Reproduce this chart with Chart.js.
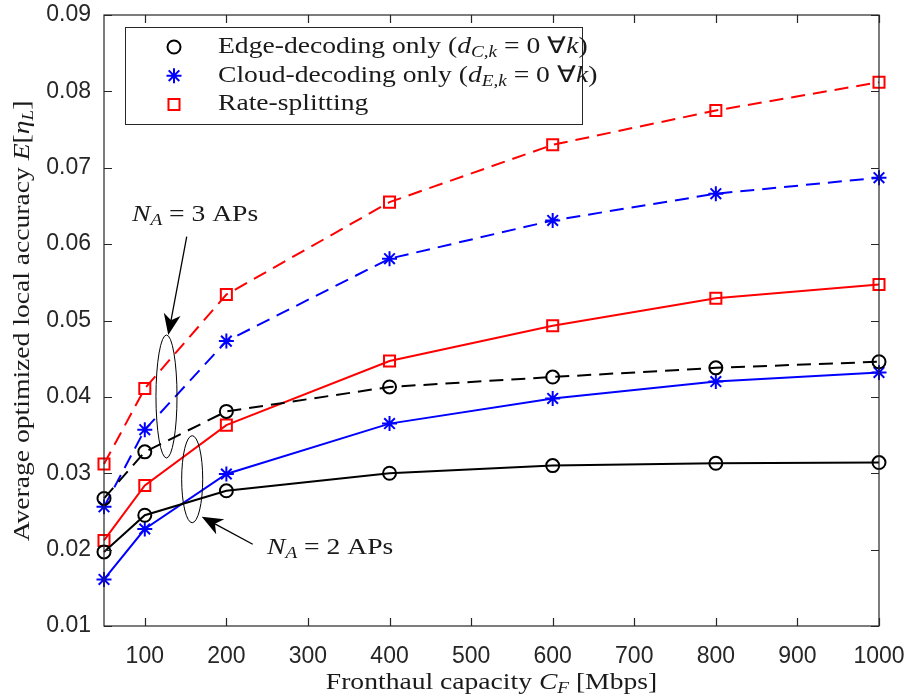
<!DOCTYPE html>
<html>
<head>
<meta charset="utf-8">
<script src="https://cdn.jsdelivr.net/npm/chart.js@4.4.1/dist/chart.umd.min.js"></script>
<style>
  html, body { margin: 0; padding: 0; background: #fff; }
  #wrap { width: 909px; height: 698px; position: relative; }
</style>
</head>
<body>
<div id="wrap"><canvas id="accChart"></canvas></div>
<script>
/* =====================================
   DATA
===================================== */

const capacities = [50, 100, 200, 400, 600, 800, 1000];

// N_A = 3 APs (dashed)
const edge3  = [0.0267, 0.0328, 0.0381, 0.0413, 0.0426, 0.0438, 0.0446];
const cloud3 = [0.0256, 0.0357, 0.0473, 0.0581, 0.0631, 0.0666, 0.0687];
const rs3    = [0.0312, 0.0411, 0.0534, 0.0655, 0.0730, 0.0775, 0.0812];

// N_A = 2 APs (solid)
const edge2  = [0.0197, 0.0245, 0.0277, 0.0300, 0.0310, 0.0313, 0.0314];
const cloud2 = [0.0161, 0.0227, 0.0299, 0.0365, 0.0398, 0.0420, 0.0432];
const rs2    = [0.0212, 0.0284, 0.0363, 0.0447, 0.0493, 0.0529, 0.0547];

const xTicks = [100, 200, 300, 400, 500, 600, 700, 800, 900, 1000];
const yTicks = [0.01, 0.02, 0.03, 0.04, 0.05, 0.06, 0.07, 0.08, 0.09];

/* =====================================
   STYLE
===================================== */

const AXIS = "#262626";
const SERIF = '"Liberation Serif", "Times New Roman", serif';
const SANS = '"Liberation Sans", Arial, sans-serif';
const TEXT_SIZE = 23;
const STRETCH = 1.2;   // widen Times towards Computer Modern proportions

const styles = {
    edge:  { color: "#000000", point: "circle", radius: 6.5 },
    cloud: { color: "#0000ff", point: "star",   radius: 7.5 },
    rs:    { color: "#ff0000", point: "rect",   radius: 7.8 }
};

function series(values, st, dashed){
    return {
        data: capacities.map((c, i) => ({ x: c, y: values[i] })),
        borderColor: st.color,
        backgroundColor: "rgba(0,0,0,0)",
        borderWidth: 2,
        borderDash: dashed ? [14, 8] : [],
        pointStyle: st.point,
        pointRadius: st.radius,
        pointBorderWidth: 2,
        pointBorderColor: st.color,
        pointBackgroundColor: "rgba(0,0,0,0)",
        tension: 0,
        clip: false
    };
}

/* =====================================
   RICH TEXT (subscripts / italics)
===================================== */

function fontFor(kind, size){
    if(kind === "i") return "italic " + size + "px " + SERIF;
    if(kind === "s") return "italic " + Math.round(size * 0.7) + "px " + SERIF;
    return size + "px " + SERIF;
}

function richWidth(ctx, parts, size){
    let w = 0;
    parts.forEach(p => { ctx.font = fontFor(p[1], size); w += ctx.measureText(p[0]).width; });
    return w;
}

function drawRich(ctx, parts, x, y, size, align){
    const w = richWidth(ctx, parts, size) * STRETCH;
    ctx.save();
    ctx.translate(align === "center" ? x - w / 2 : x, y);
    ctx.scale(STRETCH, 1);
    ctx.textBaseline = "middle";
    ctx.textAlign = "left";
    let cx = 0;
    parts.forEach(p => {
        ctx.font = fontFor(p[1], size);
        const dy = p[1] === "s" ? size * 0.25 : 0;
        ctx.fillText(p[0], cx, dy);
        cx += ctx.measureText(p[0]).width;
    });
    ctx.restore();
}

const legendItems = [
    { st: styles.edge,  text: [["Edge-decoding only (", "r"], ["d", "i"], ["C,k", "s"], [" = 0 \u2200", "r"], ["k", "i"], [")", "r"]] },
    { st: styles.cloud, text: [["Cloud-decoding only (", "r"], ["d", "i"], ["E,k", "s"], [" = 0 \u2200", "r"], ["k", "i"], [")", "r"]] },
    { st: styles.rs,    text: [["Rate-splitting", "r"]] }
];

// annotation geometry in data units
const notes = {
    ellipses: [
        { x: 126.6, y: 0.04005, rx: 12.9, ry: 0.00805 },
        { x: 158.1, y: 0.02922, rx: 12.9, ry: 0.0057 }
    ],
    arrows: [
        { from: [151.4, 0.06097], to: [128.8, 0.0481] },
        { from: [232.3, 0.0207],  to: [169.8, 0.02431] }
    ],
    labels: [
        { x: 84.3,  y: 0.0638, text: [["N", "i"], ["A", "s"], [" = 3 APs", "r"]] },
        { x: 249.8, y: 0.0202, text: [["N", "i"], ["A", "s"], [" = 2 APs", "r"]] }
    ]
};

/* =====================================
   PLUGIN: frame, ticks, legend, notes
===================================== */

const decor = {
    id: "decor",
    afterDatasetsDraw(chart){
        const ctx = chart.ctx;
        const a = chart.chartArea;
        const xs = chart.scales.x, ys = chart.scales.y;
        ctx.save();

        // frame + inward ticks
        ctx.strokeStyle = AXIS;
        ctx.lineWidth = 1.2;
        ctx.setLineDash([]);
        ctx.strokeRect(a.left, a.top, a.right - a.left, a.bottom - a.top);
        ctx.beginPath();
        xTicks.forEach(v => {
            const px = Math.round(xs.getPixelForValue(v)) + 0.5;
            ctx.moveTo(px, a.bottom); ctx.lineTo(px, a.bottom - 8);
            ctx.moveTo(px, a.top);    ctx.lineTo(px, a.top + 8);
        });
        yTicks.forEach(v => {
            const py = Math.round(ys.getPixelForValue(v)) + 0.5;
            ctx.moveTo(a.left, py);  ctx.lineTo(a.left + 8, py);
            ctx.moveTo(a.right, py); ctx.lineTo(a.right - 8, py);
        });
        ctx.stroke();

        // annotations
        ctx.strokeStyle = "#000";
        ctx.fillStyle = "#000";
        ctx.lineWidth = 1;
        notes.ellipses.forEach(e => {
            const cx = xs.getPixelForValue(e.x), cy = ys.getPixelForValue(e.y);
            const rx = xs.getPixelForValue(e.x + e.rx) - cx;
            const ry = cy - ys.getPixelForValue(e.y + e.ry);
            ctx.beginPath();
            ctx.ellipse(cx, cy, rx, ry, 0, 0, Math.PI * 2);
            ctx.stroke();
        });
        ctx.lineWidth = 1.3;
        notes.arrows.forEach(ar => {
            const x0 = xs.getPixelForValue(ar.from[0]), y0 = ys.getPixelForValue(ar.from[1]);
            const x1 = xs.getPixelForValue(ar.to[0]),   y1 = ys.getPixelForValue(ar.to[1]);
            const ang = Math.atan2(y1 - y0, x1 - x0);
            const L = 21, W = 8.5, notch = 15;
            const ux = Math.cos(ang), uy = Math.sin(ang);
            ctx.beginPath();
            ctx.moveTo(x0, y0);
            ctx.lineTo(x1 - ux * notch, y1 - uy * notch);
            ctx.stroke();
            ctx.beginPath();
            ctx.moveTo(x1, y1);
            ctx.lineTo(x1 - ux * L - uy * W, y1 - uy * L + ux * W);
            ctx.lineTo(x1 - ux * notch, y1 - uy * notch);
            ctx.lineTo(x1 - ux * L + uy * W, y1 - uy * L - ux * W);
            ctx.closePath();
            ctx.fill();
        });
        ctx.fillStyle = "#1a1a1a";
        notes.labels.forEach(l => {
            drawRich(ctx, l.text, xs.getPixelForValue(l.x), ys.getPixelForValue(l.y), TEXT_SIZE, "left");
        });

        // legend
        const lx = a.left + 21, ly = a.top + 12, lw = 457, lh = 97;
        ctx.fillStyle = "#fff";
        ctx.fillRect(lx, ly, lw, lh);
        ctx.strokeStyle = AXIS;
        ctx.lineWidth = 1;
        ctx.strokeRect(lx + 0.5, ly + 0.5, lw, lh);
        legendItems.forEach((it, i) => {
            const my = ly + 20 + i * 28.7;
            ctx.strokeStyle = it.st.color;
            ctx.fillStyle = "rgba(0,0,0,0)";
            ctx.lineWidth = 2;
            Chart.helpers.drawPoint(ctx, { pointStyle: it.st.point, radius: it.st.radius, borderWidth: 2 }, lx + 49, my);
            ctx.fillStyle = "#1a1a1a";
            drawRich(ctx, it.text, lx + 93, my, TEXT_SIZE, "left");
        });

        // axis titles
        ctx.fillStyle = "#1a1a1a";
        drawRich(ctx, [["Fronthaul capacity ", "r"], ["C", "i"], ["F", "s"], [" [Mbps]", "r"]],
                 (a.left + a.right) / 2, 683, TEXT_SIZE, "center");
        ctx.translate(23, 321);
        ctx.rotate(-Math.PI / 2);
        drawRich(ctx, [["Average optimized local accuracy ", "r"], ["E", "i"], ["[", "r"], ["\u03b7", "i"], ["L", "s"], ["]", "r"]],
                 0, 0, TEXT_SIZE, "center");

        ctx.restore();
    }
};

/* =====================================
   CHART
===================================== */

function noPad(s){
    s.paddingLeft = 0; s.paddingRight = 0;
    s.paddingTop = 0;  s.paddingBottom = 0;
}

document.addEventListener("DOMContentLoaded", () => {

    const canvas = document.getElementById("accChart");

    new Chart(canvas, {
        type: "line",
        data: {
            datasets: [
                series(edge3,  styles.edge,  true),
                series(cloud3, styles.cloud, true),
                series(rs3,    styles.rs,    true),
                series(edge2,  styles.edge,  false),
                series(cloud2, styles.cloud, false),
                series(rs2,    styles.rs,    false)
            ]
        },
        options: {
            responsive: true,
            maintainAspectRatio: false,
            animation: false,
            layout: { padding: { top: 15, right: 30, left: 0, bottom: 0 } },
            plugins: { legend: { display: false }, tooltip: { enabled: false } },
            scales: {
                x: {
                    type: "linear",
                    min: 50,
                    max: 1000,
                    grid: { display: false, drawTicks: false },
                    border: { display: false },
                    afterBuildTicks: s => { s.ticks = xTicks.map(v => ({ value: v })); },
                    afterFit: s => { s.height = 72; noPad(s); },
                    ticks: {
                        color: AXIS,
                        padding: 17,
                        maxRotation: 0,
                        font: { family: SANS, size: 23 },
                        callback: v => String(v)
                    }
                },
                y: {
                    type: "linear",
                    min: 0.01,
                    max: 0.09,
                    grid: { display: false, drawTicks: false },
                    border: { display: false },
                    afterBuildTicks: s => { s.ticks = yTicks.map(v => ({ value: v })); },
                    afterFit: s => { s.width = 104; noPad(s); },
                    ticks: {
                        color: AXIS,
                        padding: 13,
                        font: { family: SANS, size: 23 },
                        callback: v => Number(v).toFixed(2)
                    }
                }
            }
        },
        plugins: [decor]
    });

});
</script>
</body>
</html>
